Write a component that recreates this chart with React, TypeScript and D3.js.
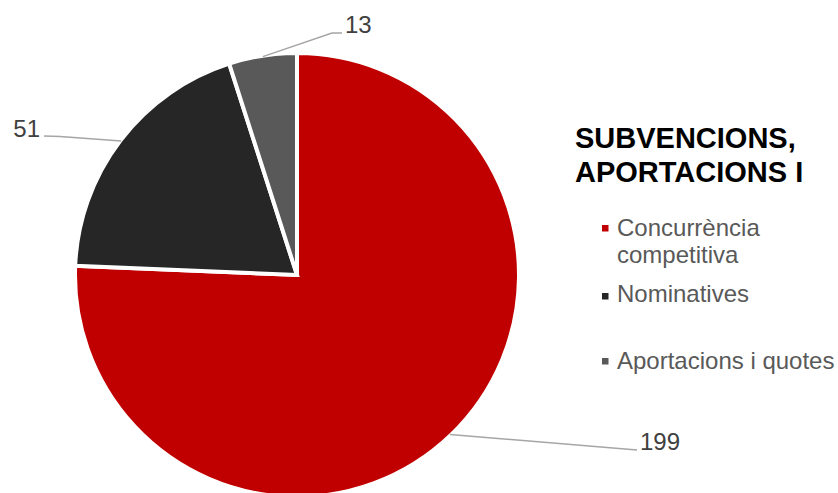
import React from "react";
import * as d3 from "d3";

const categories = ["Concurrència competitiva", "Nominatives", "Aportacions i quotes"];
const values = [199, 51, 13];
const legendLines = [["Concurrència", "competitiva"], ["Nominatives"], ["Aportacions i quotes"]];
const colors = ["#C00000", "#262626", "#595959"];
const titleLines = ["SUBVENCIONS,", "APORTACIONS I"];

const W = 838;
const H = 493;
const CX = 297;
const CY = 275;
const R = 222;
const FONT = "'Liberation Sans', Arial, sans-serif";

// label layout: elbow points and text placement per slice
const labelLayout = [
  { pts: [[637, 450]], tx: 640, ty: 450, anchor: "start" },
  { pts: [[60, 136.5], [44, 136]], tx: 40, ty: 137, anchor: "end" },
  { pts: [[332, 33], [342, 33]], tx: 345, ty: 33, anchor: "start" },
];

const legendLayout = [
  { my: 228, ty: [236, 263] },
  { my: 296, ty: [302] },
  { my: 361, ty: [369] },
];

export default function App() {
  const pie = d3.pie<number>().sort(null).value((d) => d).startAngle(0).endAngle(2 * Math.PI);
  const arcs = pie(values);
  const arc = d3.arc<d3.PieArcDatum<number>>().innerRadius(0).outerRadius(R);
  const line = d3.line();

  return (
    <svg
      width={W}
      height={H}
      style={{ position: "absolute", left: 0, top: 0, background: "#fff" }}
      fontFamily={FONT}
    >
      <rect x={0} y={0} width={W} height={H} fill="#fff" />
      <g transform={`translate(${CX},${CY})`}>
        {arcs.map((a, i) => (
          <path key={categories[i]} d={arc(a) || ""} fill={colors[i]} stroke="#fff" strokeWidth={4} strokeLinejoin="miter" />
        ))}
      </g>
      {arcs.map((a, i) => {
        const mid = (a.startAngle + a.endAngle) / 2;
        const sx = CX + Math.sin(mid) * (R - 1);
        const sy = CY - Math.cos(mid) * (R - 1);
        const L = labelLayout[i];
        const pts: [number, number][] = [[sx, sy], ...(L.pts as [number, number][])];
        return (
          <g key={"lbl" + i}>
            <path d={line(pts) || ""} fill="none" stroke="#A6A6A6" strokeWidth={1.5} />
            <text x={L.tx} y={L.ty} fontSize={24} fill="#404040" textAnchor={L.anchor as any}>
              {values[i]}
            </text>
          </g>
        );
      })}
      {titleLines.map((t, i) => (
        <text key={t} x={575} y={148 + i * 34} fontSize={29} fontWeight="bold" fill="#000">
          {t}
        </text>
      ))}
      {legendLines.map((lines, i) => (
        <g key={"leg" + i}>
          <rect x={602} y={legendLayout[i].my - 3} width={6.5} height={6.5} fill={colors[i]} />
          {lines.map((ln, j) => (
            <text key={ln} x={617} y={legendLayout[i].ty[j]} fontSize={24} fill="#595959">
              {ln}
            </text>
          ))}
        </g>
      ))}
    </svg>
  );
}
